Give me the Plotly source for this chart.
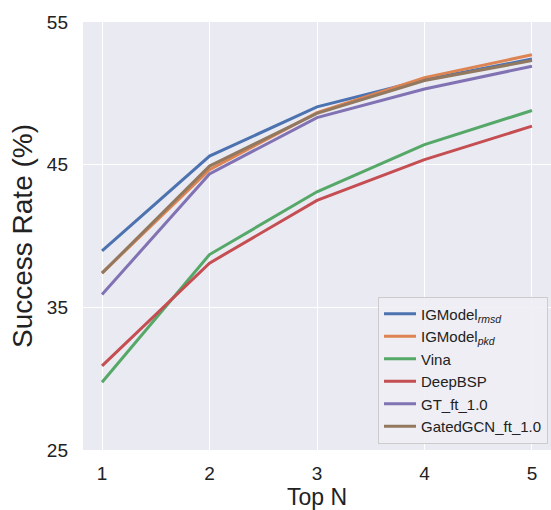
import plotly.graph_objects as go

top_n = [1, 2, 3, 4, 5]
ig_rmsd = [38.95, 45.6, 49.05, 50.95, 52.4]
ig_pkd = [37.4, 44.65, 48.65, 51.1, 52.7]
vina = [29.75, 38.7, 43.1, 46.4, 48.8]
deepbsp = [30.9, 38.1, 42.5, 45.35, 47.7]
gt_ft = [35.9, 44.35, 48.3, 50.3, 51.9]
gatedgcn_ft = [37.4, 44.9, 48.6, 50.9, 52.3]

names = ["IGModel<sub><i>rmsd</i></sub>", "IGModel<sub><i>pkd</i></sub>", "Vina",
         "DeepBSP", "GT_ft_1.0", "GatedGCN_ft_1.0"]
series = [ig_rmsd, ig_pkd, vina, deepbsp, gt_ft, gatedgcn_ft]
colors = ["#4C72B0", "#DD8452", "#55A868", "#C44E52", "#8172B3", "#937860"]

fig = go.Figure()
for n, s, c in zip(names, series, colors):
    fig.add_trace(go.Scatter(x=top_n, y=s, mode="lines", name=n,
                             line=dict(color=c, width=3)))

font = "Liberation Sans, Arial, sans-serif"
fig.update_layout(
    width=551, height=510,
    margin=dict(l=83, r=0, t=22, b=60),
    paper_bgcolor="white", plot_bgcolor="#EAEAF2",
    font=dict(family=font, color="#222222"),
    showlegend=True,
    legend=dict(x=0.9936, y=0.015, xanchor="right", yanchor="bottom",
                bgcolor="rgba(238,238,244,0.9)", bordercolor="#CCCCCC", borderwidth=1,
                font=dict(size=15, family=font, color="#222222"),
                tracegroupgap=0, itemwidth=32),
)
fig.update_xaxes(range=[0.823, 5.177], tickvals=top_n, ticktext=[str(v) for v in top_n],
                 showgrid=True, gridcolor="white", gridwidth=1.2, zeroline=False,
                 showline=False, tickfont=dict(size=19), ticklabelstandoff=10,
                 title=dict(text="Top N", font=dict(size=23), standoff=7))
fig.update_yaxes(range=[25, 55], tickvals=[25, 35, 45, 55],
                 showgrid=True, gridcolor="white", gridwidth=1.2, zeroline=False,
                 showline=False, tickfont=dict(size=19), ticklabelstandoff=14,
                 title=dict(text="Success Rate (%)", font=dict(size=28), standoff=6))

fig.write_html("out.html")
